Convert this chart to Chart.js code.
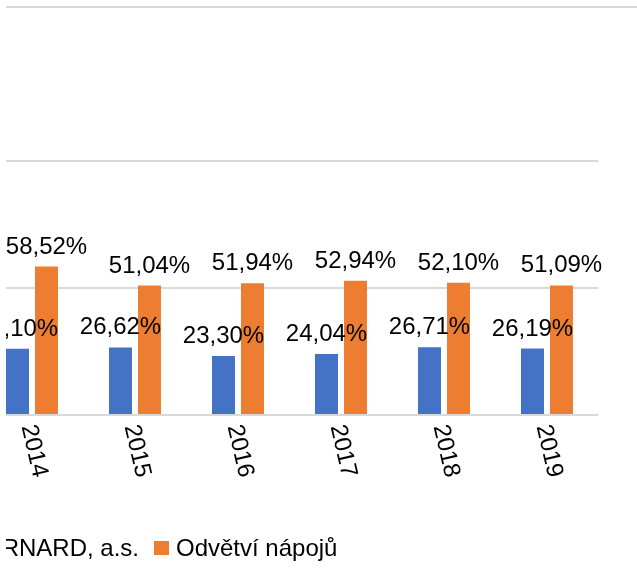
<!DOCTYPE html>
<html><head><meta charset="utf-8">
<script src="https://cdn.jsdelivr.net/npm/chart.js@4.4.1/dist/chart.umd.min.js"></script>
<style>
html,body{margin:0;padding:0;background:#fff;overflow:hidden;width:637px;height:577px;}
#topline{position:absolute;left:6px;top:6px;width:631px;height:0;border-top:2px solid #d9d9d9;}
#clip{position:absolute;left:6px;top:0;width:631px;height:577px;overflow:hidden;}
#wrap{position:absolute;left:-86px;top:0;width:720px;height:577px;}
</style></head><body>
<div id="topline"></div>
<div id="clip"><div id="wrap"><canvas id="c"></canvas></div></div>
<script>
const categories = ['2014', '2015', '2016', '2017', '2018', '2019'];
const seriesNames = ['BERNARD, a.s.', 'Odvětví nápojů'];
const bernardValues = [26.10, 26.62, 23.30, 24.04, 26.71, 26.19];
const odvetviValues = [58.52, 51.04, 51.94, 52.94, 52.10, 51.09];
const yTicks = [0, 50, 100];
const seriesColors = ['#4472C4', '#ED7D31'];

const FONT = '24px "Liberation Sans", Arial, sans-serif';
const fmt = v => v.toFixed(2).replace('.', ',') + '%';

const drawPlugin = {
  id: 'drawPlugin',
  afterDatasetsDraw(chart) {
    const ctx = chart.ctx;
    ctx.save();
    ctx.font = FONT;
    ctx.fillStyle = '#000';
    // data labels
    ctx.textAlign = 'center';
    ctx.textBaseline = 'alphabetic';
    chart.data.datasets.forEach((ds, di) => {
      const meta = chart.getDatasetMeta(di);
      meta.data.forEach((bar, i) => {
        ctx.fillText(fmt(ds.data[i]), bar.x, bar.y - 13);
      });
    });
    // category labels (rotated)
    const xs = chart.scales.x;
    const bottom = chart.chartArea.bottom;
    ctx.textAlign = 'left';
    ctx.textBaseline = 'middle';
    chart.data.labels.forEach((lab, i) => {
      const x = xs.getPixelForValue(i);
      ctx.save();
      ctx.translate(x - 4, bottom + 10);
      ctx.rotate(77 * Math.PI / 180);
      ctx.fillText(lab, 0, 0);
      ctx.restore();
    });
    // legend
    ctx.textAlign = 'left';
    ctx.textBaseline = 'alphabetic';
    const w1 = ctx.measureText(chart.data.datasets[0].label).width;
    const xs2 = 234; // canvas x of second legend square
    const xt1 = xs2 - 15 - w1;
    const xs1 = xt1 - 7 - 15;
    const items = [[xs1, 0], [xs2, 1]];
    items.forEach(([sx, di]) => {
      const ds = chart.data.datasets[di];
      ctx.fillStyle = ds.backgroundColor;
      ctx.fillRect(sx, 541, 15, 14);
      ctx.fillStyle = '#000';
      ctx.fillText(ds.label, sx + 22, 556);
    });
    ctx.restore();
  }
};

new Chart(document.getElementById('c'), {
  type: 'bar',
  data: {
    labels: categories,
    datasets: [
      { label: seriesNames[0], data: bernardValues, backgroundColor: seriesColors[0] },
      { label: seriesNames[1], data: odvetviValues, backgroundColor: seriesColors[1] }
    ]
  },
  options: {
    responsive: true,
    maintainAspectRatio: false,
    animation: false,
    events: [],
    layout: { padding: { left: 60.5, right: 41.5, top: 9.2, bottom: 162 } },
    datasets: { bar: { categoryPercentage: 0.563, barPercentage: 0.793 } },
    plugins: { legend: { display: false }, tooltip: { enabled: false } },
    scales: {
      x: {
        ticks: { display: false },
        grid: { display: false, drawTicks: false },
        border: { display: false }
      },
      y: {
        min: 0, max: 160,
        afterBuildTicks: s => { s.ticks = yTicks.map(v => ({ value: v })); },
        ticks: { display: false },
        grid: { color: '#d9d9d9', lineWidth: 2, drawTicks: false },
        border: { display: false }
      }
    }
  },
  plugins: [drawPlugin]
});
</script>
</body></html>
